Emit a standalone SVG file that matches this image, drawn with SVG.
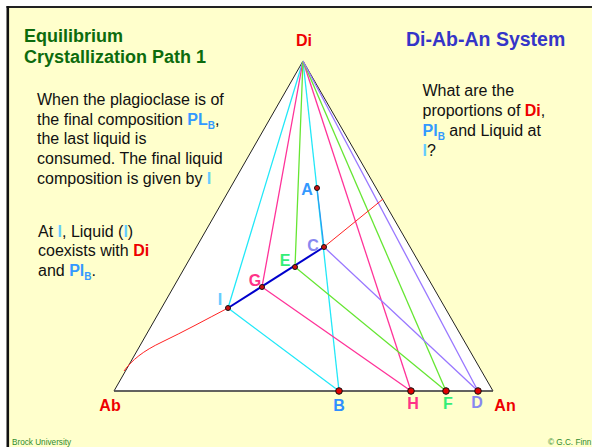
<svg xmlns="http://www.w3.org/2000/svg" width="592" height="447" viewBox="0 0 592 447">
<style>
.t{font-family:"Liberation Sans",Arial,sans-serif}
.body{font-family:"Liberation Sans",Arial,sans-serif;font-size:16px;fill:#111}
.lbl{font-family:"Liberation Sans",Arial,sans-serif;font-size:16px;font-weight:bold;text-anchor:middle}
.b{font-weight:bold}
.pb{fill:#3399ff;font-weight:bold}
.li{fill:#66ccff;font-weight:bold}
.red{fill:#ee0000;font-weight:bold}
.cy{stroke:#22e8f8;stroke-width:1.3;fill:none}
.pk{stroke:#ff3399;stroke-width:1.3;fill:none}
.gr{stroke:#66e633;stroke-width:1.3;fill:none}
.pu{stroke:#9977ff;stroke-width:1.3;fill:none}
.bigpt{fill:#e00000;stroke:#111;stroke-width:1}
.smpt{fill:#cc1111;stroke:#111;stroke-width:1}
</style>
<rect x="0" y="0" width="592" height="447" fill="#ffffff"/>
<rect x="8" y="7" width="584" height="440" fill="#ffffcc"/>
<line x1="6.5" y1="7" x2="592" y2="7" stroke="#222" stroke-width="2"/>
<line x1="7.8" y1="6" x2="7.8" y2="447" stroke="#111" stroke-width="2.6"/>

<g id="triangle">
<polygon points="303,61 114,391 493,391" fill="#ffffff" stroke="#222" stroke-width="1"/>
<line x1="114" y1="391" x2="493" y2="391" stroke="#555" stroke-width="1.6"/>
</g>

<g id="connectors">
<path class="cy" d="M303,61 L228,308 L339,391"/>
<path class="cy" d="M303,61 L339,391"/>
<path class="pk" d="M303,61 L262,287 L411,391"/>
<path class="pk" d="M303,61 L411,391"/>
<path class="gr" d="M303,61 L295,267 L446,391"/>
<path class="gr" d="M303,61 L446,391"/>
<path class="pu" d="M303,61 L478,391"/>
<path class="pu" d="M324,247 L478,391"/>
<path d="M124,371 C132,360 143,351 162,342 C185,331 205,320 228,308" fill="none" stroke="#ff2222" stroke-width="1"/>
<path d="M324,247 L383,199" fill="none" stroke="#ff2222" stroke-width="1"/>
<path d="M317,188 L324,247" fill="none" stroke="#2b9bf0" stroke-width="1.2"/>
<path d="M228,308 L324,247" fill="none" stroke="#0000cc" stroke-width="2"/>
</g>

<g id="node-Di"><text class="lbl" x="304" y="46" fill="#ee0000">Di</text></g>
<g id="node-Ab"><text class="lbl" x="110" y="411" fill="#ee0000">Ab</text></g>
<g id="node-An"><text class="lbl" x="505" y="411" fill="#ee0000">An</text></g>

<g id="node-A"><circle class="smpt" cx="317" cy="188" r="2.5"/><text class="lbl" x="307" y="195" fill="#3399ff">A</text></g>
<g id="node-C"><circle class="smpt" cx="324" cy="247" r="2.5"/><text class="lbl" x="313" y="251" fill="#8888f0">C</text></g>
<g id="node-E"><circle class="smpt" cx="295" cy="267" r="2.5"/><text class="lbl" x="285" y="266" fill="#33ee77">E</text></g>
<g id="node-G"><circle class="smpt" cx="262" cy="287" r="2.5"/><text class="lbl" x="255" y="286" fill="#ff3388">G</text></g>
<g id="node-I"><circle class="smpt" cx="228" cy="308" r="2.5"/><text class="lbl" x="220" y="305" fill="#66ccff">I</text></g>

<g id="node-B"><circle class="bigpt" cx="339" cy="391" r="3.3"/><text class="lbl" x="339" y="411" fill="#2f8fff">B</text></g>
<g id="node-H"><circle class="bigpt" cx="411" cy="391" r="3.3"/><text class="lbl" x="413" y="409" fill="#ff3388">H</text></g>
<g id="node-F"><circle class="bigpt" cx="446" cy="391" r="3.3"/><text class="lbl" x="448" y="409" fill="#33ee77">F</text></g>
<g id="node-D"><circle class="bigpt" cx="478" cy="391" r="3.3"/><text class="lbl" x="477" y="408" fill="#8888f0">D</text></g>

<g id="title">
<text class="t" x="24" y="42" font-size="18" font-weight="bold" fill="#0d6b0d">Equilibrium</text>
<text class="t" x="24" y="63" font-size="18" font-weight="bold" fill="#0d6b0d">Crystallization Path 1</text>
<text class="t" x="406" y="46" font-size="19.5" font-weight="bold" fill="#3535c8">Di-Ab-An System</text>
</g>

<g id="text-left">
<text class="body" x="37" y="105">When the plagioclase is of</text>
<text class="body" x="37" y="124.7">the final composition <tspan class="pb">PL</tspan><tspan class="pb" font-size="10" dy="4">B</tspan><tspan dy="-4">,</tspan></text>
<text class="body" x="37" y="144.4">the last liquid is</text>
<text class="body" x="37" y="164.1">consumed. The final liquid</text>
<text class="body" x="37" y="183.8">composition is given by <tspan class="li">I</tspan></text>
</g>

<g id="text-left2">
<text class="body" x="38" y="236.5">At <tspan class="li">I</tspan>, Liquid (<tspan class="li">I</tspan>)</text>
<text class="body" x="38" y="256">coexists with <tspan class="red">Di</tspan></text>
<text class="body" x="38" y="275.5">and <tspan class="pb">Pl</tspan><tspan class="pb" font-size="10" dy="4">B</tspan><tspan dy="-4">.</tspan></text>
</g>

<g id="text-right">
<text class="body" x="422.5" y="96">What are the</text>
<text class="body" x="422.5" y="116">proportions of <tspan class="red">Di</tspan>,</text>
<text class="body" x="422.5" y="136"><tspan class="pb">Pl</tspan><tspan class="pb" font-size="10" dy="4">B</tspan><tspan dy="-4"> and Liquid at</tspan></text>
<text class="body" x="422.5" y="155.5"><tspan class="li">I</tspan>?</text>
</g>

<g id="footer">
<text class="t" x="12" y="445" font-size="8.2" fill="#2e8b2e">Brock University</text>
<text class="t" x="548" y="445" font-size="8.2" fill="#2e8b2e">© G.C. Finn</text>
</g>
</svg>
